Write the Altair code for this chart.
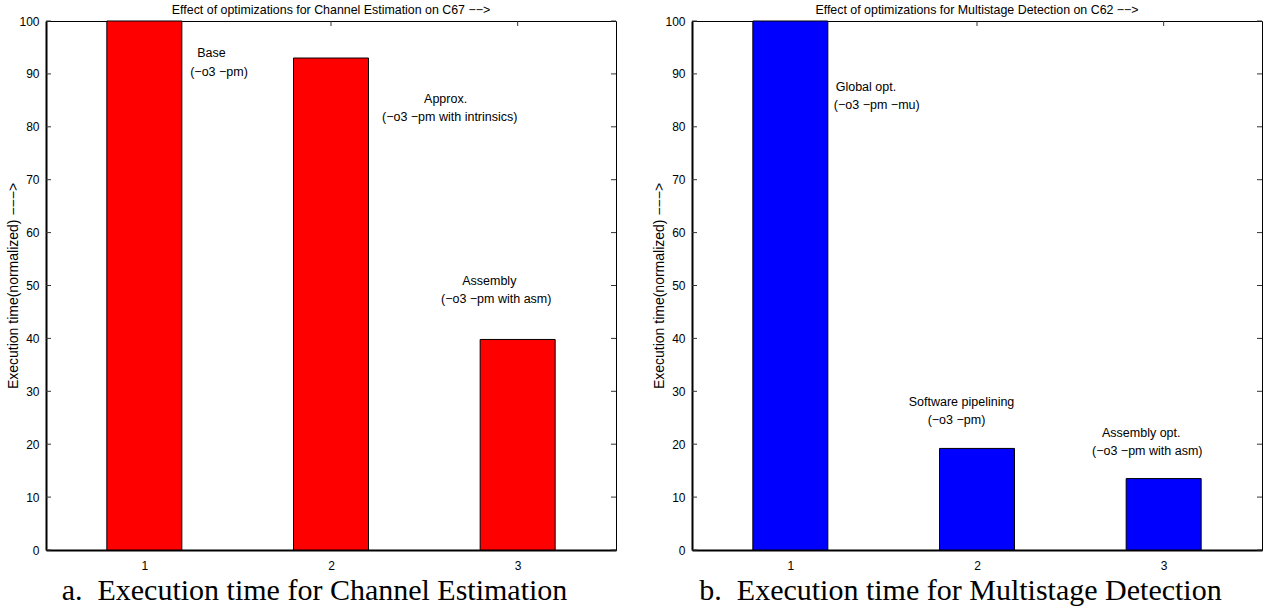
import altair as alt
import pandas as pd

# ---- data ----
positions = [1, 2, 3]
channel_values = [100, 93, 39.8]
multistage_values = [100, 19.2, 13.5]
y_ticks = [0, 10, 20, 30, 40, 50, 60, 70, 80, 90, 100]
x_ticks = [1, 2, 3]

left_title = "Effect of optimizations for Channel Estimation on C67 −−>"
right_title = "Effect of optimizations for Multistage Detection on C62 −−>"
y_title = "Execution time(normalized) −−−>"
left_caption = "a.\u2002Execution time for Channel Estimation"
right_caption = "b.\u2002Execution time for Multistage Detection"

left_ann_text = ["Base", "(−o3 −pm)", "Approx.", "(−o3 −pm with intrinsics)",
                 "Assembly", "(−o3 −pm with asm)"]
left_ann_x = [1.36, 1.40, 2.614, 2.636, 2.848, 2.885]
left_ann_y = [94.0, 90.4, 85.2, 81.8, 50.9, 47.4]

right_ann_text = ["Global opt.", "(−o3 −pm −mu)", "Software pipelining", "(−o3 −pm)",
                  "Assembly opt.", "(−o3 −pm with asm)"]
right_ann_x = [1.405, 1.463, 1.917, 1.890, 2.880, 2.912]
right_ann_y = [87.6, 84.2, 28.0, 24.5, 22.2, 18.8]

W = 570
H = 529
SANS = "Liberation Sans"
SERIF = "Liberation Serif"


def panel(values, color, title, caption, ann_text, ann_x, ann_y):
    bars_df = pd.DataFrame({"pos": positions, "val": values})
    yt = pd.DataFrame({"t": y_ticks})
    xt = pd.DataFrame({"t": x_ticks})
    ann = pd.DataFrame({"label": ann_text, "x": ann_x, "y": ann_y})

    xscale = alt.Scale(domain=[0.5, 3.5], nice=False, zero=False)
    yscale = alt.Scale(domain=[0, 100], nice=False)

    xaxis = alt.Axis(
        values=x_ticks, title=caption, grid=False, ticks=False, tickSize=0,
        labelPadding=10, labelFont=SANS, labelFontSize=12, labelColor="black",
        domainColor="black", domainWidth=2,
        titleFont=SERIF, titleFontSize=30, titleFontWeight="normal",
        titleColor="black", titleX=268, titleY=40, titleBaseline="middle",
        titleAlign="center",
    )
    yaxis = alt.Axis(
        values=y_ticks, title=y_title, grid=False, ticks=False, tickSize=0,
        labelPadding=7, labelFont=SANS, labelFontSize=12, labelColor="black",
        domainColor="black", domainWidth=2,
        titleFont=SANS, titleFontSize=14, titleFontWeight="normal",
        titleColor="black", titleAngle=270, titleX=-33, titleY=H / 2,
        titleBaseline="middle", titleAlign="center",
    )

    def X(field):
        return alt.X(field, scale=xscale, axis=xaxis)

    def Y(field):
        return alt.Y(field, scale=yscale, axis=yaxis)

    tick_color = "#333333"
    left_ticks = alt.Chart(yt).mark_rule(color=tick_color).encode(
        y=Y("t:Q"), x=alt.value(0), x2=alt.value(5))
    right_ticks = alt.Chart(yt).mark_rule(color=tick_color).encode(
        y=Y("t:Q"), x=alt.value(W - 5), x2=alt.value(W))
    bottom_ticks = alt.Chart(xt).mark_rule(color=tick_color).encode(
        x=X("t:Q"), y=alt.value(H - 5), y2=alt.value(H))
    top_ticks = alt.Chart(xt).mark_rule(color=tick_color).encode(
        x=X("t:Q"), y=alt.value(0), y2=alt.value(5))

    bars = alt.Chart(bars_df).mark_bar(
        size=75, color=color, stroke="black", strokeWidth=1
    ).encode(
        x=X("pos:Q"),
        y=Y("val:Q"),
    )

    texts = alt.Chart(ann).mark_text(
        align="center", baseline="middle", font=SANS, fontSize=12.5, color="black"
    ).encode(
        x=X("x:Q"),
        y=Y("y:Q"),
        text="label:N",
    )

    return alt.layer(
        left_ticks, right_ticks, bottom_ticks, top_ticks, bars, texts
    ).properties(
        width=W, height=H,
        title=alt.TitleParams(title, font=SANS, fontSize=12.4, fontWeight="normal",
                              color="black", anchor="middle", offset=-1),
    )


left = panel(channel_values, "#FF0000", left_title, left_caption,
             left_ann_text, left_ann_x, left_ann_y)
right = panel(multistage_values, "#0000FF", right_title, right_caption,
              right_ann_text, right_ann_x, right_ann_y)

chart = alt.hconcat(left, right, spacing=34).properties(
    padding={"left": 5, "top": 3, "right": 0, "bottom": 0},
    background="white",
).configure_view(stroke="black", strokeWidth=1)

chart.save("out.html", embed_options={"renderer": "svg", "actions": False})
